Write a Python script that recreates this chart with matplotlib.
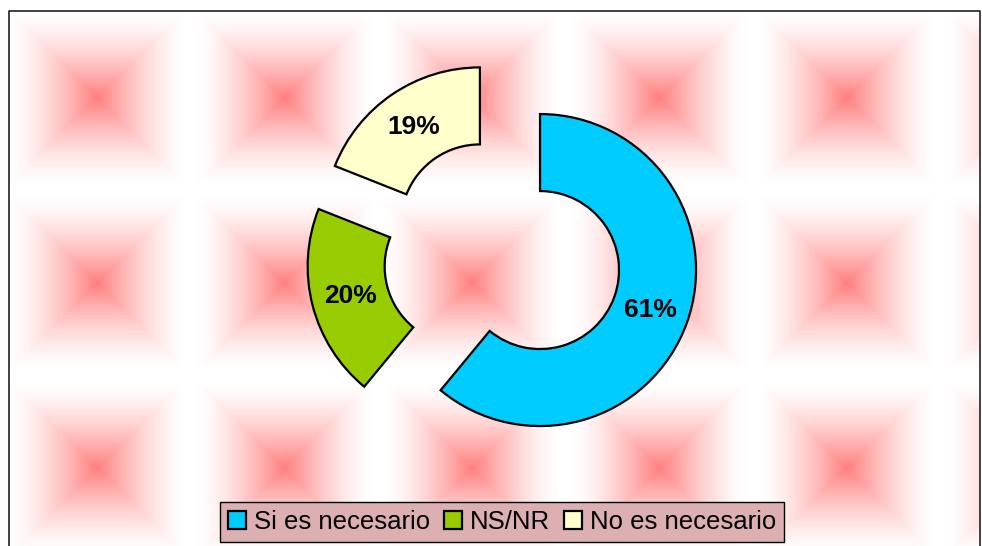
import numpy as np
import matplotlib
matplotlib.use('Agg')
import matplotlib.pyplot as plt
from matplotlib.patches import Patch

labels = ['Si es necesario', 'NS/NR', 'No es necesario']
values = [61, 20, 19]
colors = ['#00ccff', '#99cc00', '#ffffcc']

W, H = 982, 546
plt.rcParams['font.family'] = ['Liberation Sans', 'DejaVu Sans']

fig = plt.figure(figsize=(W / 100, H / 100), dpi=100)
ax = fig.add_axes([0, 0, 1, 1])

# tiled square-gradient background (pixel grid)
x0, x1, y0 = 9, 980, 11
px = np.arange(x0, x1) + 0.5
py = np.arange(y0, H) + 0.5
PX, PY = np.meshgrid(px, py)
per_x, per_y = 187.5, 185.0
dx = np.abs(((PX - 97) + per_x / 2) % per_x - per_x / 2) / (per_x / 2)
dy = np.abs(((PY - 98) + per_y / 2) % per_y - per_y / 2) / (per_y / 2)
t = np.maximum(dx, dy)
f = np.clip(1 - t / 0.94, 0, 1) ** 1.5
img = np.ones(PX.shape + (3,))
img[..., 1] -= 0.5 * f
img[..., 2] -= 0.5 * f
ax.imshow(img, extent=(x0, x1, 0, H - y0), origin='upper', interpolation='bilinear', zorder=0)

# frame
ax.plot([x0, x0, x1, x1], [0, H - y0, H - y0, 0], color='#222222', lw=1.2, zorder=1)

wedges, texts, autotexts = ax.pie(
    values, colors=colors, radius=156, center=(502.4, H - 256.5),
    explode=[40, 40, 40], startangle=90, counterclock=False,
    autopct='%.0f%%', pctdistance=0.75,
    wedgeprops=dict(width=77, edgecolor='black', linewidth=1.6),
    textprops=dict(fontsize=19, fontweight='bold', color='black'))
for w in wedges:
    w.set_zorder(2)
for a in autotexts:
    a.set_zorder(3)

ax.set_xlim(0, W)
ax.set_ylim(0, H)
ax.set_aspect('auto')
ax.axis('off')

handles = [Patch(facecolor=c, edgecolor='black', linewidth=1.6) for c in colors]
leg = fig.legend(handles, labels, loc='center', bbox_to_anchor=(502 / W, 1 - 522 / H),
                 ncol=3, fontsize=18.5, frameon=True, fancybox=False,
                 facecolor='#dcb0b2', edgecolor='black', framealpha=1,
                 handlelength=0.7, handleheight=0.7, handletextpad=0.3,
                 columnspacing=0.55, borderpad=0.3, borderaxespad=0)
leg.get_frame().set_linewidth(1.0)

fig.savefig('out.png', dpi=100)
